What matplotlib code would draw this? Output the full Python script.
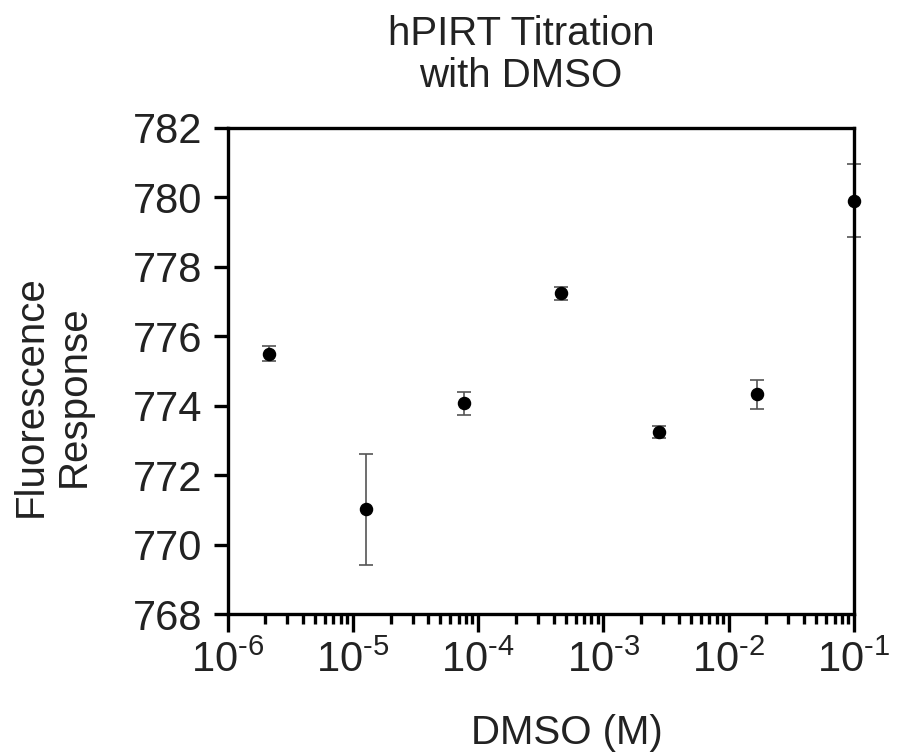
import numpy as np
import matplotlib
matplotlib.use('Agg')
import matplotlib.pyplot as plt
from matplotlib.ticker import LogLocator, FixedLocator, NullFormatter

plt.rcParams['font.family'] = ['Liberation Sans', 'DejaVu Sans']
plt.rcParams['mathtext.fontset'] = 'custom'
plt.rcParams['mathtext.rm'] = 'Liberation Sans'
plt.rcParams['mathtext.it'] = 'Liberation Sans'
plt.rcParams['mathtext.bf'] = 'Liberation Sans'
plt.rcParams['text.color'] = '#222222'
plt.rcParams['xtick.labelcolor'] = '#222222'
plt.rcParams['ytick.labelcolor'] = '#222222'

# DMSO concentrations (M), 6-fold dilution series
dmso_conc = [2.14e-6, 1.286e-5, 7.72e-5, 4.63e-4, 2.78e-3, 1.667e-2, 1.0e-1]
response = [775.49, 771.01, 774.07, 777.23, 773.25, 774.33, 779.90]
response_err = [0.22, 1.59, 0.33, 0.18, 0.17, 0.42, 1.05]

x_ticks = [1e-6, 1e-5, 1e-4, 1e-3, 1e-2, 1e-1]
x_tick_labels = [r'$10^{\text{-6}}$', r'$10^{\text{-5}}$', r'$10^{\text{-4}}$',
                 r'$10^{\text{-3}}$', r'$10^{\text{-2}}$', r'$10^{\text{-1}}$']
y_ticks = [768, 770, 772, 774, 776, 778, 780, 782]

fig = plt.figure(figsize=(8.98, 7.56), dpi=100)
ax = fig.add_axes([227.5 / 898, 1 - 614 / 756, (854 - 227.5) / 898, (614 - 127.7) / 756])

ax.errorbar(dmso_conc, response, yerr=response_err, fmt='none', ecolor='#555555',
            elinewidth=1.2, capsize=5, capthick=1.2, clip_on=False, zorder=2)
ax.plot(dmso_conc, response, 'o', color='black', markersize=8.7, clip_on=False, zorder=3)

ax.set_xscale('log')
ax.set_xlim(1e-6, 1e-1)
ax.set_ylim(768, 782)

ax.xaxis.set_major_locator(FixedLocator(x_ticks))
ax.set_xticklabels(x_tick_labels)
ax.xaxis.set_minor_locator(LogLocator(base=10, subs=np.arange(2, 10)))
ax.xaxis.set_minor_formatter(NullFormatter())
ax.set_yticks(y_ticks)

for side in ['left', 'right', 'top', 'bottom']:
    ax.spines[side].set_linewidth(2.4)

ax.tick_params(axis='both', which='major', direction='out', width=2.4, labelsize=30)
ax.tick_params(axis='x', which='major', length=13, pad=6)
ax.tick_params(axis='y', which='major', length=10, pad=8)
ax.tick_params(axis='x', which='minor', direction='out', width=2.4, length=7)

fig.text(521 / 898, 1 - 55 / 756, 'hPIRT Titration\nwith DMSO', ha='center', va='center',
         fontsize=29, linespacing=1.15)
fig.text(52 / 898, 1 - 396 / 756, 'Fluorescence\nResponse', ha='center', va='center',
         rotation=90, fontsize=29, linespacing=1.15)
fig.text(567 / 898, 1 - 733 / 756, 'DMSO (M)', ha='center', va='center', fontsize=29)

fig.savefig('out.png', dpi=100)
